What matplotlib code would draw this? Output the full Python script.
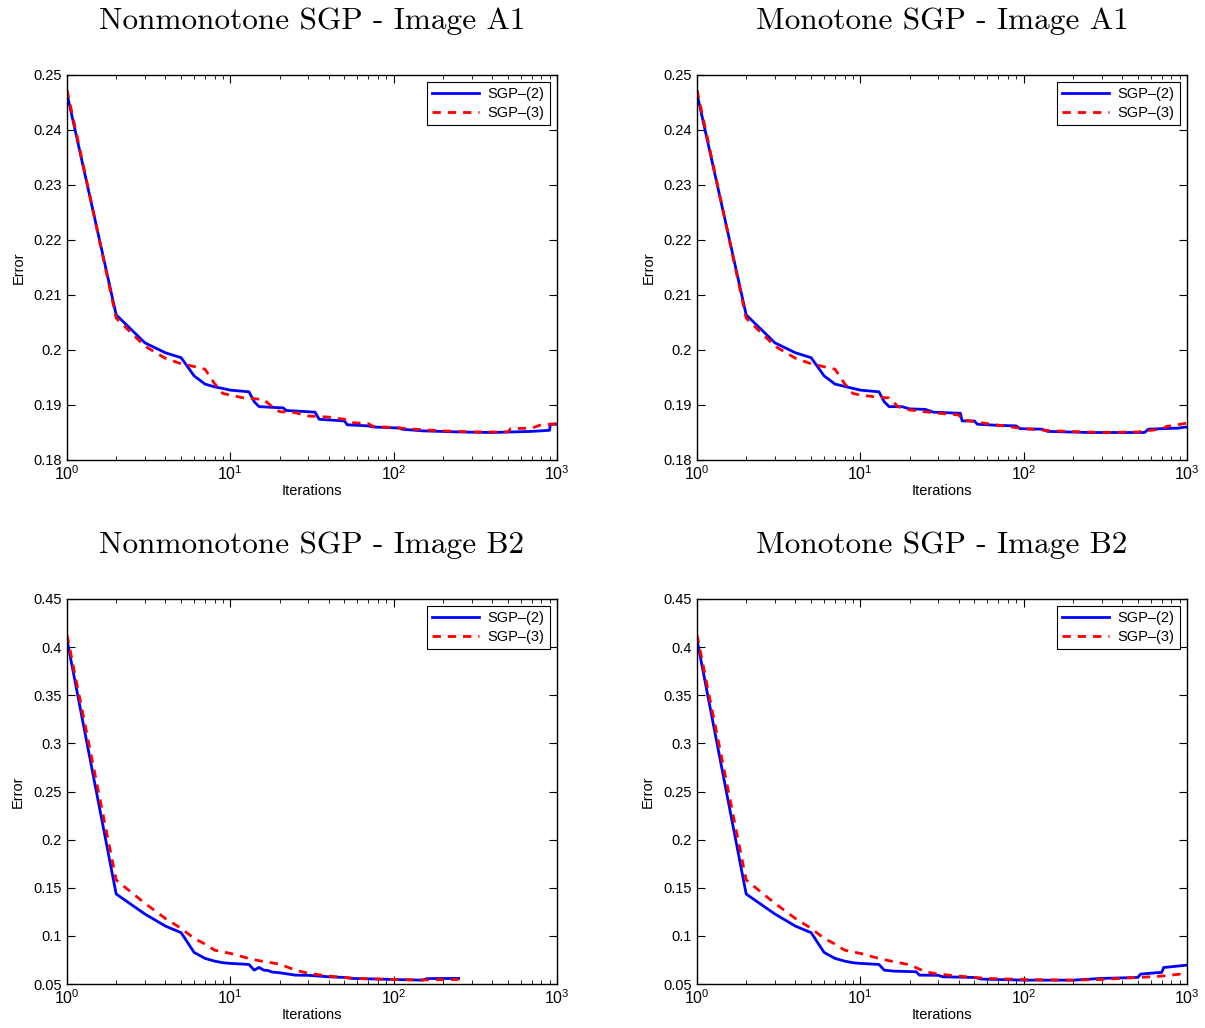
import matplotlib
matplotlib.use("Agg")
import matplotlib.pyplot as plt
from matplotlib.ticker import FuncFormatter, LogLocator

plt.rcParams["font.family"] = ["Liberation Sans", "DejaVu Sans"]
plt.rcParams["font.size"] = 10

# --- Image A1, nonmonotone ---
a1n_x2 = [1, 2, 3, 4, 5, 6, 7, 8, 9, 10, 13, 14, 15, 20, 21, 22, 33, 35, 50, 52,
          70, 75, 110, 112, 150, 250, 400, 700, 900, 910, 1000]
a1n_y2 = [0.2466, 0.2064, 0.2013, 0.1995, 0.1986, 0.1953, 0.1938, 0.1933, 0.1930, 0.1927,
          0.1924, 0.1906, 0.1897, 0.1895, 0.1895, 0.1890, 0.1887, 0.1874, 0.1871, 0.1864,
          0.1862, 0.1860, 0.1858, 0.1856, 0.1853, 0.1851, 0.1850, 0.1852, 0.1854, 0.1865, 0.1865]
a1n_x3 = [1, 2, 3, 4, 5, 6, 7, 8, 9, 10, 12, 16, 18, 20, 25, 30, 40, 50, 55, 70, 75,
          100, 150, 200, 300, 500, 520, 700, 800, 1000]
a1n_y3 = [0.2473, 0.2058, 0.2007, 0.1985, 0.1975, 0.1970, 0.1965, 0.1939, 0.1921, 0.1918,
          0.1913, 0.1910, 0.1897, 0.1888, 0.1886, 0.1880, 0.1878, 0.1874, 0.1868, 0.1866,
          0.1861, 0.1859, 0.1855, 0.1853, 0.1851, 0.1851, 0.1857, 0.1858, 0.1864, 0.1866]

# --- Image A1, monotone ---
a1m_x2 = [1, 2, 3, 4, 5, 6, 7, 10, 13, 14, 15, 18, 20, 25, 28, 40, 41, 42, 50, 52,
          70, 90, 95, 130, 140, 250, 550, 580, 700, 900, 920, 1000]
a1m_y2 = [0.2466, 0.2064, 0.2013, 0.1995, 0.1986, 0.1953, 0.1938, 0.1927, 0.1924, 0.1906,
          0.1897, 0.1897, 0.1893, 0.1892, 0.1887, 0.1885, 0.1885, 0.1871, 0.1871, 0.1865,
          0.1863, 0.1862, 0.1857, 0.1856, 0.1852, 0.1850, 0.1850, 0.1856, 0.1857, 0.1858,
          0.1859, 0.1860]
a1m_x3 = [1, 2, 3, 4, 5, 7, 8, 9, 10, 13, 15, 17, 20, 30, 40, 42, 60, 100, 150, 300,
          500, 600, 700, 750, 1000]
a1m_y3 = [0.2473, 0.2058, 0.2007, 0.1985, 0.1975, 0.1965, 0.1939, 0.1921, 0.1918, 0.1914,
          0.1913, 0.1897, 0.1891, 0.1885, 0.1882, 0.1873, 0.1866, 0.1857, 0.1853, 0.1850,
          0.1851, 0.1854, 0.1856, 0.1861, 0.1867]

# --- Image B2, nonmonotone ---
b2n_x2 = [1, 2, 3, 4, 5, 6, 7, 8, 9, 10, 13, 14, 15, 16, 17, 18, 20, 25, 30, 40, 50,
          55, 100, 150, 160, 250]
b2n_y2 = [0.4077, 0.1435, 0.1227, 0.1102, 0.1033, 0.0828, 0.0766, 0.0738, 0.0721, 0.0714,
          0.0703, 0.0644, 0.0672, 0.0644, 0.0640, 0.0624, 0.0617, 0.0592, 0.0590, 0.0575,
          0.0568, 0.0558, 0.0547, 0.0540, 0.0556, 0.0558]
b2n_x3 = [1, 2, 3, 4, 5, 6, 7, 8, 10, 13, 15, 20, 25, 30, 40, 50, 60, 100, 150, 250]
b2n_y3 = [0.4129, 0.1580, 0.1338, 0.1181, 0.1078, 0.0974, 0.0915, 0.0852, 0.0818, 0.0765,
          0.0742, 0.0707, 0.0644, 0.0611, 0.0582, 0.0568, 0.0558, 0.0547, 0.0542, 0.0547]

# --- Image B2, monotone ---
b2m_x2 = [1, 2, 3, 4, 5, 6, 7, 8, 9, 10, 13, 14, 16, 22, 23, 30, 32, 50, 55, 100,
          200, 300, 500, 520, 650, 700, 720, 800, 1000]
b2m_y2 = [0.4077, 0.1435, 0.1227, 0.1102, 0.1033, 0.0828, 0.0766, 0.0738, 0.0721, 0.0714,
          0.0703, 0.0644, 0.0634, 0.0627, 0.0592, 0.0590, 0.0575, 0.0568, 0.0551, 0.0540,
          0.0540, 0.0558, 0.0568, 0.0603, 0.0617, 0.0620, 0.0672, 0.0679, 0.0696]
b2m_x3 = [1, 2, 3, 4, 5, 6, 7, 8, 10, 13, 15, 20, 25, 30, 40, 60, 100, 200, 300, 500,
          600, 700, 800, 1000]
b2m_y3 = [0.4129, 0.1580, 0.1338, 0.1181, 0.1078, 0.0974, 0.0915, 0.0852, 0.0818, 0.0765,
          0.0742, 0.0700, 0.0627, 0.0603, 0.0582, 0.0558, 0.0547, 0.0540, 0.0547, 0.0568,
          0.0575, 0.0582, 0.0592, 0.0611]

titles = ["Nonmonotone SGP - Image A1", "Monotone SGP - Image A1",
          "Nonmonotone SGP - Image B2", "Monotone SGP - Image B2"]
series = [
    (a1n_x2, a1n_y2, a1n_x3, a1n_y3),
    (a1m_x2, a1m_y2, a1m_x3, a1m_y3),
    (b2n_x2, b2n_y2, b2n_x3, b2n_y3),
    (b2m_x2, b2m_y2, b2m_x3, b2m_y3),
]
ylims = [(0.18, 0.25), (0.18, 0.25), (0.05, 0.45), (0.05, 0.45)]
yticks = [[0.18, 0.19, 0.2, 0.21, 0.22, 0.23, 0.24, 0.25]] * 2 + \
         [[0.05, 0.1, 0.15, 0.2, 0.25, 0.3, 0.35, 0.4, 0.45]] * 2
labels = ["SGP\u2013(2)", "SGP\u2013(3)"]

W, H = 1205, 1028
fig = plt.figure(figsize=(W / 100, H / 100), dpi=100)
lefts = [67, 697, 67, 697]
tops = [75, 75, 599, 599]
aw, ah = 490, 385

for i in range(4):
    ax = fig.add_axes([lefts[i] / W, 1 - (tops[i] + ah) / H, aw / W, ah / H])
    x2, y2, x3, y3 = series[i]
    ax.plot(x2, y2, color="#0000ff", lw=2.0, label=labels[0])
    ax.plot(x3, y3, color="#ff0000", lw=2.0, ls=(0, (3, 2.5)), label=labels[1])
    ax.set_xscale("log")
    ax.set_xlim(1, 1000)
    ax.set_ylim(*ylims[i])
    ax.set_yticks(yticks[i])
    ax.yaxis.set_major_formatter(FuncFormatter(lambda v, p: "%g" % round(v, 4)))
    ax.xaxis.set_major_locator(LogLocator(base=10, numticks=10))
    ax.xaxis.set_minor_locator(LogLocator(base=10, subs=range(2, 10), numticks=10))
    ax.tick_params(which="both", direction="in", top=True, right=True, labelsize=10.5)
    ax.tick_params(axis="x", which="major", labelsize=11.5, pad=3)
    ax.tick_params(which="major", length=6, width=0.8)
    ax.tick_params(which="minor", length=3, width=0.6)
    for s in ax.spines.values():
        s.set_linewidth(1.0)
    ax.set_xlabel("Iterations", fontsize=10.5, labelpad=1)
    ax.set_ylabel("Error", fontsize=10.5, labelpad=6)
    ax.set_title(titles[i], family="cmr10", fontsize=22.5, pad=33)
    leg = ax.legend(loc="upper right", fontsize=10.5, handlelength=3.2,
                    borderaxespad=0.5, fancybox=False, framealpha=1,
                    borderpad=0.35, labelspacing=0.3, handletextpad=0.6)
    leg.get_frame().set_edgecolor("black")
    leg.get_frame().set_linewidth(0.8)

fig.savefig("out.png", dpi=100)
